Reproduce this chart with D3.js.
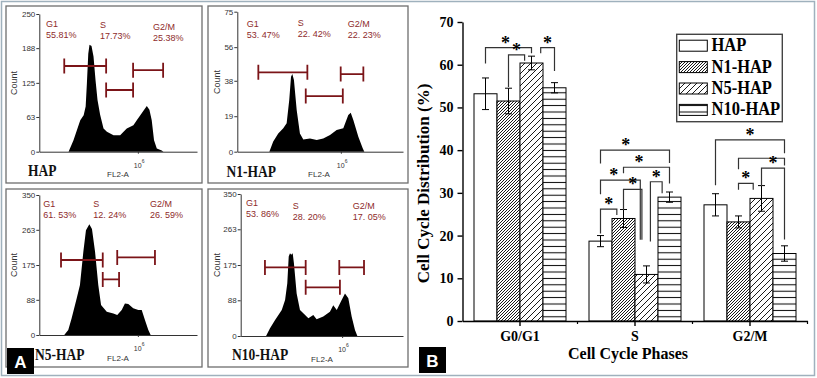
<!DOCTYPE html>
<html>
<head>
<meta charset="utf-8">
<script src="https://cdn.jsdelivr.net/npm/d3@7"></script>
<style>
  html, body { margin: 0; padding: 0; background: #fff; }
  svg { display: block; }
</style>
</head>
<body>
<svg id="fig" width="817" height="378"></svg>
<script>
// ---------- panel A: FL2-A histograms, [channel, count] ----------
var histHAP = [[190,0],[222,21],[266,57],[288,66],[301,82],[309,124],[318,178],[326,194],[339,192],[352,173],[365,130],[378,94],[395,67],[417,42],[439,36],[482,30],[525,30],[547,36],[568,42],[611,48],[633,57],[665,70],[698,83],[715,76],[730,57],[745,21],[763,6],[795,2],[806,0]];
var histN1 = [[198,0],[222,5.4],[253,9.8],[284,12.5],[305,15.2],[321,27.7],[332,40.2],[340,41.6],[350,38.4],[367,22.3],[387,9.8],[408,6.6],[449,7.1],[491,6.3],[531,7.1],[573,8.9],[614,11.6],[655,12.5],[686,19.6],[701,20.9],[717,17],[748,8],[775,1.8],[785,0]];
var histN5 = [[162,0],[188,12.5],[210,42],[243,92],[264,125],[286,208],[303,262],[325,277],[342,265],[362,208],[383,125],[401,75],[438,58],[481,54],[506,50],[535,62.5],[556,79],[578,77.5],[610,67],[643,62.5],[665,62.5],[686,37.5],[708,12.5],[723,0]];
var histN10 = [[160,0],[185,19],[216,39],[259,64],[280,89],[294,130],[303,196],[311,204],[319,200],[328,204],[336,179],[353,105],[374,64],[395,56],[427,44],[458,52],[479,41],[521,48],[563,60],[584,76],[606,64],[637,89],[658,105],[679,93],[700,48],[721,15],[736,0]];

// gates [from channel, to channel, count level] for G1, S, G2/M
var gatesHAP = [[162,434,155.6],[434,609,112],[609,804,148]];
var gatesN1 = [[130,433,42.5],[423,652,29.8],[639,779,41.6]];
var gatesN5 = [[141,412,187.5],[412,518,139],[506,751,194]];
var gatesN10 = [[153,410,169],[410,626,120],[622,778,169]];

var gateNames = ["G1", "S", "G2/M"];
var pctHAP = ["55.81%", "17.73%", "25.38%"];
var pctN1 = ["53. 47%", "22. 42%", "22. 23%"];
var pctN5 = ["61. 53%", "12. 24%", "26. 59%"];
var pctN10 = ["53. 86%", "28. 20%", "17. 05%"];

var ticksHAP = [0, 63, 125, 188, 250];
var ticksN1 = [0, 19, 38, 56, 75];
var ticksN5 = [0, 88, 175, 263, 350];
var ticksN10 = [0, 88, 175, 263, 350];

// ---------- panel B: cell cycle distribution (%) ----------
var phases = ["G0/G1", "S", "G2/M"];
var groups = ["HAP", "N1-HAP", "N5-HAP", "N10-HAP"];
var meanHAP = [53.2, 18.7, 27.2];
var meanN1 = [51.5, 24.0, 23.2];
var meanN5 = [60.4, 10.9, 28.7];
var meanN10 = [54.6, 29.0, 15.8];
var errHAP = [3.7, 1.3, 2.6];
var errN1 = [3.0, 2.1, 1.4];
var errN5 = [1.6, 2.0, 3.0];
var errN10 = [1.2, 1.2, 1.8];
var yTicks = [0, 10, 20, 30, 40, 50, 60, 70];

// significance brackets: [from bar, to bar, top %, left end %, right end %, star, star bar]
var sigG0G1 = [[0, 2, 64.0, 60.3, 62.7, 1, 0.87], [1, 1.7, 62.3, 54.8, 60.9, 1], [2.4, 3, 64.0, 62.7, 58.5, 1]];
var sigS = [[0, 3, 40.0, 36.9, 37.0, 1, 1.1], [1, 3, 36.0, 34.6, 32.2, 1, 1.67], [0, 1.73, 33.0, 29.7, 19.0, 1, 0.58],
            [1, 1.8, 30.8, 26.0, 19.0, 1], [2.17, 2.68, 32.6, 18.6, 29.9, 1], [0, 0.71, 26.2, 20.5, 24.8, 1]];
var sigG2M = [[0, 3, 42.4, 31.8, 39.3, 1], [1, 3, 38.1, 35.5, 36.4, 0], [2, 3, 35.8, 31.6, 19.1, 1], [1, 1.64, 32.2, 30.7, 30.7, 1]];

var svg = d3.select("#fig");
var sans = "'Liberation Sans', Arial, sans-serif";
var serif = "'Liberation Serif', 'Times New Roman', serif";

// outer frame
svg.append("rect").attr("x", 1.5).attr("y", 1.5).attr("width", 813).attr("height", 374)
  .attr("fill", "none").attr("stroke", "#9fb1bd").attr("stroke-width", 1.5);

// ================= panel A =================
var histPanels = [
  {name: "HAP", hist: histHAP, gates: gatesHAP, pct: pctHAP, ticks: ticksHAP,
   box: [6, 6, 196, 177], px: [39.3, 197], py: [151.7, 14],
   lab: [[46, 24], [100, 25], [153, 27]], nameXY: [28, 176], countXY: [14, 83], fl2X: 118},
  {name: "N1-HAP", hist: histN1, gates: gatesN1, pct: pctN1, ticks: ticksN1,
   box: [208, 6, 200, 177], px: [237.3, 403], py: [151.7, 11.7],
   lab: [[246.7, 24], [297.7, 23], [347.7, 24]], nameXY: [226.5, 177], countXY: [217, 82], fl2X: 319},
  {name: "N5-HAP", hist: histN5, gates: gatesN5, pct: pctN5, ticks: ticksN5,
   box: [6, 189, 196, 178], px: [39.3, 197], py: [335, 195],
   lab: [[43.3, 204], [93.3, 204], [150, 204]], nameXY: [35, 359.5], countXY: [14, 265], fl2X: 118},
  {name: "N10-HAP", hist: histN10, gates: gatesN10, pct: pctN10, ticks: ticksN10,
   box: [208, 189, 200, 178], px: [240.7, 403], py: [336, 194],
   lab: [[246, 203], [292.7, 206], [352.7, 206]], nameXY: [232, 360], countXY: [217, 265], fl2X: 322}
];

histPanels.forEach(function(p) {
  var g = svg.append("g");
  g.append("rect").attr("x", p.box[0]).attr("y", p.box[1]).attr("width", p.box[2]).attr("height", p.box[3])
    .attr("fill", "#fff").attr("stroke", "#6e6e6e").attr("stroke-width", 1.3);

  var xs = d3.scaleLinear().domain([0, 1024]).range(p.px);
  var ys = d3.scaleLinear().domain([0, p.ticks[p.ticks.length - 1]]).range(p.py);

  // histogram trace
  var area = d3.area()
    .x(function(d) { return xs(d[0]); })
    .y0(ys(0))
    .y1(function(d) { return ys(d[1]); });
  g.append("path").datum(p.hist).attr("d", area).attr("fill", "#000");

  // axes
  var ya = g.append("g").attr("transform", "translate(" + p.px[0] + ",0)")
    .call(d3.axisLeft(ys).tickValues(p.ticks).tickSize(3).tickSizeOuter(0).tickPadding(1));
  ya.selectAll("text").attr("font-family", sans).attr("font-size", 8).attr("fill", "#333");
  ya.selectAll("line, path").attr("stroke", "#333");

  var xa = g.append("g").attr("transform", "translate(0," + p.py[0] + ")")
    .call(d3.axisBottom(xs).tickValues([640]).tickFormat("").tickSize(2).tickSizeOuter(0));
  xa.selectAll("line, path").attr("stroke", "#333");

  // 10^6 label
  var tx = g.append("text").attr("x", xs(640) - 4).attr("y", p.py[0] + 16)
    .attr("font-family", sans).attr("font-size", 7).attr("fill", "#333").text("10");
  tx.append("tspan").attr("dy", -5).attr("font-size", 5).text("6");

  g.append("text").attr("x", p.fl2X).attr("y", p.py[0] + 25.5).attr("text-anchor", "middle")
    .attr("font-family", sans).attr("font-size", 8).attr("fill", "#333").text("FL2-A");

  g.append("text").attr("transform", "translate(" + p.countXY[0] + "," + p.countXY[1] + ") rotate(-90)")
    .attr("text-anchor", "middle").attr("dominant-baseline", "central")
    .attr("font-family", sans).attr("font-size", 9).attr("fill", "#333").text("Count");

  // gates
  p.gates.forEach(function(gt) {
    var yy = ys(gt[2]);
    g.append("path")
      .attr("d", "M" + xs(gt[0]) + "," + yy + "H" + xs(gt[1]) +
                 "M" + xs(gt[0]) + "," + (yy - 7.5) + "V" + (yy + 7.5) +
                 "M" + xs(gt[1]) + "," + (yy - 7.5) + "V" + (yy + 7.5))
      .attr("stroke", "#7b1418").attr("stroke-width", 1.8).attr("fill", "none");
  });

  // gate percentages
  gateNames.forEach(function(n, i) {
    g.append("text").attr("x", p.lab[i][0]).attr("y", p.lab[i][1]).attr("dominant-baseline", "central")
      .attr("font-family", sans).attr("font-size", 9).attr("fill", "#8e2b2b").text(n);
    g.append("text").attr("x", p.lab[i][0]).attr("y", p.lab[i][1] + 11).attr("dominant-baseline", "central")
      .attr("font-family", sans).attr("font-size", 9).attr("fill", "#8e2b2b").text(p.pct[i]);
  });

  g.append("text").attr("transform", "translate(" + p.nameXY[0] + "," + p.nameXY[1] + ") scale(1,1.2)")
    .attr("font-family", serif).attr("font-weight", "bold").attr("font-size", 13.5).attr("fill", "#111")
    .text(p.name);
});

// ================= panel B =================
var defs = svg.append("defs");
var p1 = defs.append("pattern").attr("id", "hatchDense").attr("patternUnits", "userSpaceOnUse")
  .attr("width", 3).attr("height", 3);
p1.append("rect").attr("width", 3).attr("height", 3).attr("fill", "#fff");
p1.append("path").attr("d", "M0,3L3,0M-1,1L1,-1M2,4L4,2").attr("stroke", "#000").attr("stroke-width", 0.9);

var p2 = defs.append("pattern").attr("id", "hatchWide").attr("patternUnits", "userSpaceOnUse")
  .attr("width", 6).attr("height", 6);
p2.append("rect").attr("width", 6).attr("height", 6).attr("fill", "#fff");
p2.append("path").attr("d", "M0,6L6,0M-1,1L1,-1M5,7L7,5").attr("stroke", "#000").attr("stroke-width", 0.9);

var p3 = defs.append("pattern").attr("id", "hLines").attr("patternUnits", "userSpaceOnUse")
  .attr("width", 10).attr("height", 6.4);
p3.append("rect").attr("width", 10).attr("height", 6.4).attr("fill", "#fff");
p3.append("path").attr("d", "M0,3.2H10").attr("stroke", "#000").attr("stroke-width", 1);

var fills = ["#fff", "url(#hatchDense)", "url(#hatchWide)", "url(#hLines)"];
var means = [meanHAP, meanN1, meanN5, meanN10];
var errs = [errHAP, errN1, errN5, errN10];

var x0 = d3.scaleBand().domain(phases).range([462.5, 807.5]).paddingInner(0.2).paddingOuter(0.1);
var x1 = d3.scaleBand().domain(groups).range([0, x0.bandwidth()]);
var y = d3.scaleLinear().domain([0, 70]).range([321, 22]);

var gb = svg.append("g");

// bars
groups.forEach(function(grp, gi) {
  gb.selectAll(".bar" + gi)
    .data(phases)
    .enter()
    .append("rect")
    .attr("x", function(d) { return x0(d) + x1(grp); })
    .attr("y", function(d, i) { return y(means[gi][i]); })
    .attr("width", x1.bandwidth())
    .attr("height", function(d, i) { return y(0) - y(means[gi][i]); })
    .attr("fill", fills[gi])
    .attr("stroke", "#000")
    .attr("stroke-width", 1);
});

// error bars
groups.forEach(function(grp, gi) {
  phases.forEach(function(ph, i) {
    var cx = x0(ph) + x1(grp) + x1.bandwidth() / 2;
    var hi = y(means[gi][i] + errs[gi][i]), lo = y(means[gi][i] - errs[gi][i]);
    gb.append("path")
      .attr("d", "M" + cx + "," + hi + "V" + lo + "M" + (cx - 3.5) + "," + hi + "H" + (cx + 3.5) +
                 "M" + (cx - 3.5) + "," + lo + "H" + (cx + 3.5))
      .attr("stroke", "#000").attr("stroke-width", 1).attr("fill", "none");
  });
});

// significance brackets
var bw = x1.bandwidth();
[sigG0G1, sigS, sigG2M].forEach(function(rows, pi) {
  var left = x0(phases[pi]);
  rows.forEach(function(r) {
    var xa = left + bw * (r[0] + 0.5), xb = left + bw * (r[1] + 0.5);
    gb.append("path")
      .attr("d", "M" + xa + "," + y(r[3]) + "V" + y(r[2]) + "H" + xb + "V" + y(r[4]))
      .attr("stroke", "#333").attr("stroke-width", 1.2).attr("fill", "none");
    if (r[5]) {
      var sx = r[6] !== undefined ? left + bw * (r[6] + 0.5) : (xa + xb) / 2;
      gb.append("text").attr("x", sx).attr("y", y(r[2]) - 7 + 8).attr("text-anchor", "middle")
        .attr("font-family", serif).attr("font-weight", "bold").attr("font-size", 18).text("*");
    }
  });
});

// axes
var yAxis = gb.append("g").attr("transform", "translate(462.5,0)")
  .call(d3.axisLeft(y).tickValues(yTicks).tickSize(5).tickSizeOuter(0).tickPadding(4));
yAxis.selectAll("text").attr("font-family", serif).attr("font-weight", "bold").attr("font-size", 14).attr("fill", "#000");
yAxis.selectAll("line, path").attr("stroke", "#000").attr("stroke-width", 1.4);

var xAxis = gb.append("g").attr("transform", "translate(0,321)")
  .call(d3.axisBottom(x0).tickSize(5).tickSizeOuter(0).tickPadding(5));
xAxis.selectAll("text").attr("font-family", serif).attr("font-weight", "bold").attr("font-size", 14).attr("fill", "#000");
xAxis.selectAll("line, path").attr("stroke", "#000").attr("stroke-width", 1.4);

// minor ticks at the phase boundaries
var bounds = phases.slice(1).map(function(d) { return x0(d) - x0.step() * x0.paddingInner() / 2; });
bounds.push(x0.range()[1]);
xAxis.selectAll(".minor").data(bounds).enter().append("line")
  .attr("x1", function(d) { return d; }).attr("x2", function(d) { return d; })
  .attr("y1", 0).attr("y2", 3).attr("stroke", "#000").attr("stroke-width", 1.2);

gb.append("text").attr("transform", "translate(423,183.5) rotate(-90)")
  .attr("text-anchor", "middle").attr("dominant-baseline", "central")
  .attr("font-family", serif).attr("font-weight", "bold").attr("font-size", 17)
  .text("Cell Cycle Distribution (%)");

gb.append("text").attr("x", 628).attr("y", 359).attr("text-anchor", "middle")
  .attr("font-family", serif).attr("font-weight", "bold").attr("font-size", 16)
  .text("Cell Cycle Phases");

// legend
var lg = gb.append("g");
lg.append("rect").attr("x", 676.7).attr("y", 34.3).attr("width", 105.6).attr("height", 87.4)
  .attr("fill", "#fff").attr("stroke", "#444").attr("stroke-width", 1.4);
groups.forEach(function(grp, gi) {
  var cy = 45.7 + gi * 21.4;
  lg.append("rect").attr("x", 679.3).attr("y", cy - 5.5).attr("width", 28).attr("height", 11)
    .attr("fill", fills[gi]).attr("stroke", "#000").attr("stroke-width", 1);
  lg.append("text").attr("transform", "translate(711.5," + (cy + 5.5) + ") scale(1,1.15)")
    .attr("font-family", serif).attr("font-weight", "bold").attr("font-size", 16.5).text(grp);
});

// panel letters
[["A", 7, 348], ["B", 419, 347]].forEach(function(l) {
  svg.append("rect").attr("x", l[1]).attr("y", l[2]).attr("width", 27).attr("height", 26).attr("fill", "#000");
  svg.append("text").attr("x", l[1] + 13.5).attr("y", l[2] + 19.5).attr("text-anchor", "middle")
    .attr("font-family", sans).attr("font-weight", "bold").attr("font-size", 17).attr("fill", "#fff").text(l[0]);
});
</script>
</body>
</html>
